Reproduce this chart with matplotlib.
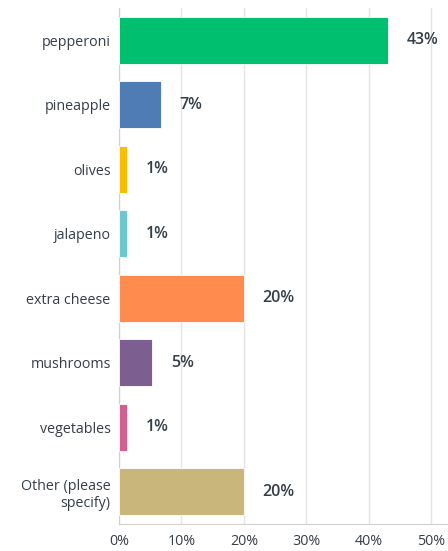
import matplotlib.pyplot as plt
from matplotlib.ticker import FuncFormatter

plt.rcParams['font.family'] = ['Open Sans', 'DejaVu Sans']

categories = ["pepperoni", "pineapple", "olives", "jalapeno", "extra cheese",
              "mushrooms", "vegetables", "Other (please\nspecify)"]
values = [43.1, 6.7, 1.3, 1.3, 20.0, 5.3, 1.3, 20.0]
labels = ["43%", "7%", "1%", "1%", "20%", "5%", "1%", "20%"]
colors = ["#00bf6f", "#507cb6", "#f9be00", "#6bc8cd", "#ff8b4f",
          "#7d5e90", "#d25f90", "#c8b67a"]
xticks = [0, 10, 20, 30, 40, 50]

text_color = "#333e48"

fig = plt.figure(figsize=(4.48, 5.51), dpi=100)
ax = fig.add_axes([119 / 448, 27 / 551, 329 / 448, 516 / 551])

y = list(range(len(categories)))
ax.barh(y, values, height=0.73, color=colors, edgecolor="white", linewidth=0.6, zorder=3)

for yi, v, lab in zip(y, values, labels):
    ax.text(v + 3.0, yi, lab, va="center", ha="left", fontsize=11.5,
            fontweight="semibold", color=text_color)

ax.set_ylim(len(categories) - 0.5, -0.5)
ax.set_xlim(0, 52.7)
ax.set_yticks(y)
ax.set_yticklabels(categories, fontsize=10.3, color=text_color)
ax.set_xticks(xticks)
ax.xaxis.set_major_formatter(FuncFormatter(lambda v, p: f"{v:.0f}%"))
ax.tick_params(axis="x", labelsize=10.3, colors=text_color, length=0, pad=7)
ax.tick_params(axis="y", length=0, pad=6)
for lab in ax.get_yticklabels():
    lab.set_multialignment("right")

ax.grid(axis="x", color="#e4e4e4", linewidth=1, zorder=0)
for s in ["top", "right"]:
    ax.spines[s].set_visible(False)
ax.spines["left"].set_color("#d0d0d0")
ax.spines["bottom"].set_color("#d0d0d0")

fig.savefig("out.png", dpi=100)
